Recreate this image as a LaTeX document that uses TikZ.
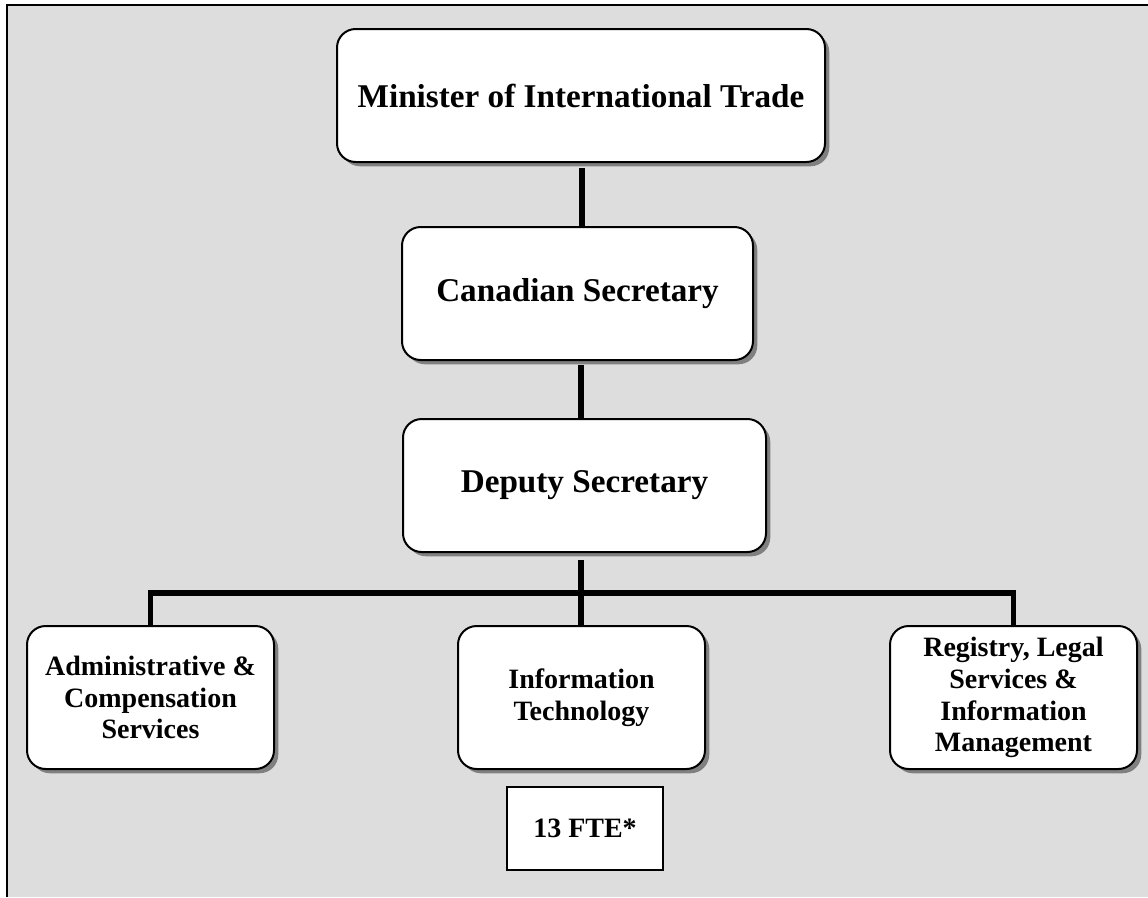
\documentclass[tikz,border=0pt]{standalone}
\usepackage{fontspec}
\setmainfont{Liberation Serif}
\usetikzlibrary{shadows,calc}
\definecolor{bgc}{HTML}{DDDDDD}
\definecolor{shc}{HTML}{808080}
\tikzset{
  unitbox/.style={draw=black, line width=1.5pt, fill=white, rounded corners=14pt, align=center,
    drop shadow={shadow xshift=3.2pt, shadow yshift=-3.2pt, fill=shc, opacity=1}},
  bigtext/.style={font={\fontsize{24.9}{28}\selectfont\bfseries}},
  smalltext/.style={font={\fontsize{21}{23.8}\selectfont\bfseries}},
  conn/.style={line width=4.1pt, draw=black},
  ftebox/.style={draw=black, line width=1.2pt, fill=white, align=center}
}
\begin{document}
\begin{tikzpicture}[x=0.75pt, y=-0.75pt]
\useasboundingbox (0,0) rectangle (1148,897);
\fill[bgc] (7,5) rectangle (1148,897);
\draw[line width=1.6pt] (7,897) -- (7,5) -- (1148,5);

\node[unitbox, bigtext, minimum width=366pt, minimum height=99.75pt] (min) at (581,95.5) {Minister of International Trade};
\node[unitbox, bigtext, minimum width=263.25pt, minimum height=99.75pt] (can) at (577.5,293.5) {Canadian Secretary};
\node[unitbox, bigtext, minimum width=272.25pt, minimum height=99.75pt] (dep) at (584.5,485.5) {Deputy Secretary};

\node[unitbox, smalltext, minimum width=185.25pt, minimum height=107.25pt] (adm) at (150.5,697.5) {Administrative \&\\Compensation\\Services};
\node[unitbox, smalltext, minimum width=185.25pt, minimum height=107.25pt] (it) at (581.5,697.5) {Information\\Technology};
\node[unitbox, smalltext, minimum width=185.25pt, minimum height=107.25pt] (reg) at (1013.5,697.5) {Registry, Legal\\Services \&\\Information\\Management};
\node[ftebox, smalltext, minimum width=117pt, minimum height=62.25pt] (fte) at (585,828.5) {13 FTE*};

\coordinate (bus) at (581,593);
\coordinate (c1) at (582,168);
\coordinate (c2) at (581,365);
\coordinate (c3) at (581,560);

\draw[conn] (c1) -- (c1 |- can.north);
\draw[conn] (c2) -- (c2 |- dep.north);
\draw[conn] (c3) -- (bus);
\draw[conn] (adm.north) |- (bus) -| (reg.north);
\draw[conn] (bus) -- (bus |- it.north);
\end{tikzpicture}
\end{document}
